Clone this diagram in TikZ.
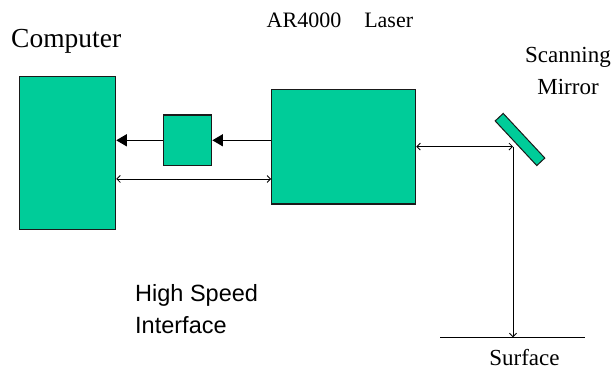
\documentclass[tikz,border=0pt]{standalone}
\usepackage{fontspec}
\setmainfont{Liberation Serif}
\newfontfamily\arialfont{Liberation Sans}
\usetikzlibrary{arrows.meta}
\definecolor{boxgreen}{HTML}{00CC99}
\definecolor{edgegray}{HTML}{1A1A1A}
\tikzset{
  greenbox/.style={draw=edgegray, line width=1.2pt, fill=boxgreen, inner sep=0pt, rectangle},
  fillarrow/.style={line width=1.2pt, -{Triangle[length=10.5pt,width=12pt]}},
  dblarrow/.style={line width=0.8pt, {Straight Barb[length=3.5pt,width=7pt]}-{Straight Barb[length=3.5pt,width=7pt]}},
  downarrow/.style={line width=0.8pt, -{Straight Barb[length=3.5pt,width=7pt]}},
  plainline/.style={line width=1.1pt},
}
\begin{document}
\begin{tikzpicture}[x=1pt,y=-1pt]
\useasboundingbox (0,0) rectangle (613,371);
% boxes
\node[greenbox, minimum width=96pt, minimum height=152.6pt] (comp) at (67.65,153) {};
\node[greenbox, minimum width=48.3pt, minimum height=50.7pt] (small) at (187.6,140.3) {};
\node[greenbox, minimum width=144pt, minimum height=114.7pt] (laser) at (343.7,146.6) {};
\node[greenbox, line width=1pt, minimum width=61pt, minimum height=11pt, rotate=-47] (mirror) at (520,139.5) {};
% coordinates
\coordinate (hit) at (513,146.6);
\coordinate (s1) at (440,337.3);
\coordinate (s2) at (585,337.3);
% connectors
\draw[fillarrow] (laser.west |- small) -- (small.east);
\draw[fillarrow] (small.west) -- (comp.east |- small);
\draw[dblarrow] (comp.east |- 0,179) -- (laser.west |- 0,179);
\draw[dblarrow] (laser.east |- hit) -- (hit);
\draw[downarrow] (hit) -- (hit |- s1);
\draw[plainline] (s1) -- (s2);
% labels
\node[anchor=base west, inner sep=0pt, font=\fontsize{27.5}{30}\selectfont] (tcomp) at (11,48) {Computer};
\node[anchor=base west, inner sep=0pt, font=\fontsize{22}{26}\selectfont] (tlaser) at (266.5,27.5) {AR4000\hspace{23pt}Laser};
\node[anchor=base, inner sep=0pt, align=center, font=\fontsize{23}{32}\selectfont] (tscan) at (568,95) {Scanning\\Mirror};
\node[anchor=base, inner sep=0pt, font=\fontsize{23}{26}\selectfont] (tsurf) at (524.5,365.5) {Surface};
\node[anchor=base west, inner sep=0pt, align=left, font=\arialfont\fontsize{23.5}{32}\selectfont] (thigh) at (135,333.5) {High Speed\\Interface};
\end{tikzpicture}
\end{document}
